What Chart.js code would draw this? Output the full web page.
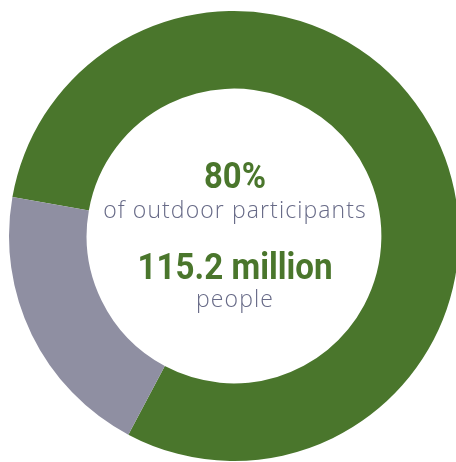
<!DOCTYPE html>
<html lang="en">
<head>
  <meta charset="UTF-8">
  <title>Outdoor Participants</title>
  <script src="https://cdn.jsdelivr.net/npm/chart.js"></script>
  <style>
    html, body {
      margin: 0;
      padding: 0;
      background-color: white;
      overflow: hidden;
    }
    #ringContainer {
      position: absolute;
      left: 0;
      top: 0;
      width: 468px;
      height: 472px;
    }
  </style>
</head>
<body>

<div id="ringContainer">
  <canvas id="ringChart" width="468" height="472"></canvas>
</div>

<script>
  // share of outdoor participants, in percent
  const segments = ["Participants", "Others"];
  const shares = [80, 20];
  const segmentColors = ["#4a762c", "#8f8fa2"];

  const headline = shares[0] + "%";
  const headlineNote = "of outdoor participants";
  const peopleCount = "115.2 million";
  const peopleNote = "people";

  // text in the hole of the ring; bold lines squeezed to look condensed
  const centerText = {
    id: 'centerText',
    afterDraw(chart) {
      const ctx = chart.ctx;
      const meta = chart.getDatasetMeta(0).data[0];
      const cx = meta.x;
      const cy = meta.y;
      const boldFont = 'bold 37px Roboto, sans-serif';
      const lightFont = '300 23px "Open Sans", Lato, sans-serif';
      ctx.save();
      ctx.textAlign = 'center';
      ctx.textBaseline = 'alphabetic';

      ctx.fillStyle = '#4a762c';
      ctx.font = boldFont;
      ctx.fillText(headline, cx + 1, cy - 48, 62);

      ctx.fillStyle = '#676a87';
      ctx.font = lightFont;
      ctx.letterSpacing = '1.1px';
      ctx.fillText(headlineNote, cx + 1, cy - 18, 266);

      ctx.fillStyle = '#4a762c';
      ctx.font = boldFont;
      ctx.letterSpacing = '0px';
      ctx.fillText(peopleCount, cx + 1, cy + 43, 195);

      ctx.fillStyle = '#676a87';
      ctx.font = lightFont;
      ctx.letterSpacing = '1.1px';
      ctx.fillText(peopleNote, cx + 1, cy + 71);
      ctx.restore();
    }
  };

  const ctx = document.getElementById('ringChart').getContext('2d');
  new Chart(ctx, {
    type: 'doughnut',
    data: {
      labels: segments,
      datasets: [{
        data: shares,
        backgroundColor: segmentColors,
        borderWidth: 0
      }]
    },
    options: {
      responsive: false,
      animation: false,
      rotation: 280,
      cutout: '65.5%',
      layout: { padding: { left: 9, right: 9, top: 11, bottom: 11 } },
      plugins: {
        legend: { display: false },
        tooltip: { enabled: false }
      }
    },
    plugins: [centerText]
  });
</script>

</body>
</html>
